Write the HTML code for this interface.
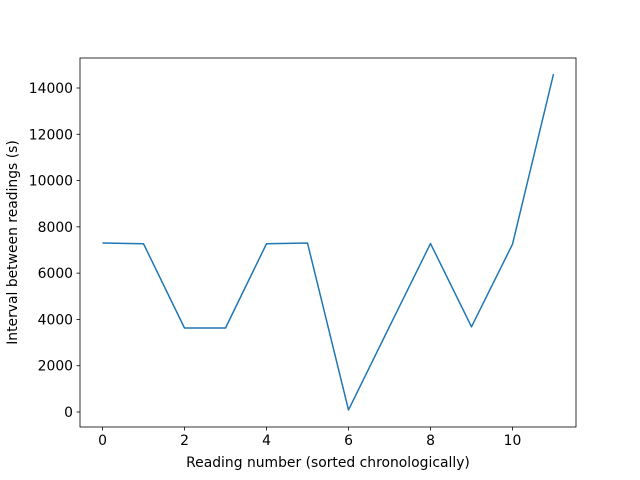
<!DOCTYPE html>
<html><head><meta charset="utf-8"><style>
body{margin:0;background:#fff;}
svg{display:block;font-family:"DejaVu Sans","Liberation Sans",sans-serif;}
</style></head><body>
<svg id="chart" width="640" height="480" viewBox="0 0 640 480">
<rect x="0" y="0" width="640" height="480" fill="#fff"/>
<g id="plot"></g>
</svg>
<script>
const xValues=[0,1,2,3,4,5,6,7,8,9,10,11];
const intervals=[7300,7270,3630,3630,7270,7300,90,3690,7280,3680,7250,14600];
const xTicks=[0,2,4,6,8,10];
const yTicks=[0,2000,4000,6000,8000,10000,12000,14000];
const L=80,R=576,T=58,B=427;
const FS=13.9;
const xs=v=>102.5+(v-0)*41;
const ys=v=>412-v*(324/14000);
const NS="http://www.w3.org/2000/svg";
const g=document.getElementById('plot');
function mk(t,a){const e=document.createElementNS(NS,t);for(const k in a)e.setAttribute(k,a[k]);g.appendChild(e);return e;}
const frame=mk('rect',{x:L,y:T,width:R-L,height:B-T,fill:'none',stroke:'#000','stroke-width':0.8});


xTicks.forEach(t=>{
 const x=xs(t);
 const l=mk('line',{x1:x,x2:x,y1:B,y2:B+3.5,stroke:'#000','stroke-width':0.8});
 
 
 const tx=mk('text',{x:x,y:B+18,'font-size':FS,'text-anchor':'middle'});tx.textContent=t;
 
 
});
yTicks.forEach(t=>{
 const y=ys(t);
 const l=mk('line',{x1:L-3.5,x2:L,y1:y,y2:y,stroke:'#000','stroke-width':0.8});
 
 
 const tx=mk('text',{x:L-7,y:y+5,'font-size':FS,'text-anchor':'end'});tx.textContent=t;
 
 
});
const pts=xValues.map((v,i)=>xs(v)+','+ys(intervals[i])).join(' ');
const pl=mk('polyline',{points:pts,fill:'none',stroke:'#1f77b4','stroke-width':1.5,'stroke-linejoin':'round'});


const xl=mk('text',{x:(L+R)/2,y:467,'font-size':FS,'text-anchor':'middle'});xl.textContent='Reading number (sorted chronologically)';


const yl=mk('text',{x:0,y:0,'font-size':FS,'text-anchor':'middle',transform:'translate(17,'+((T+B)/2)+') rotate(-90)'});yl.textContent='Interval between readings (s)';


</script>
</body></html>
